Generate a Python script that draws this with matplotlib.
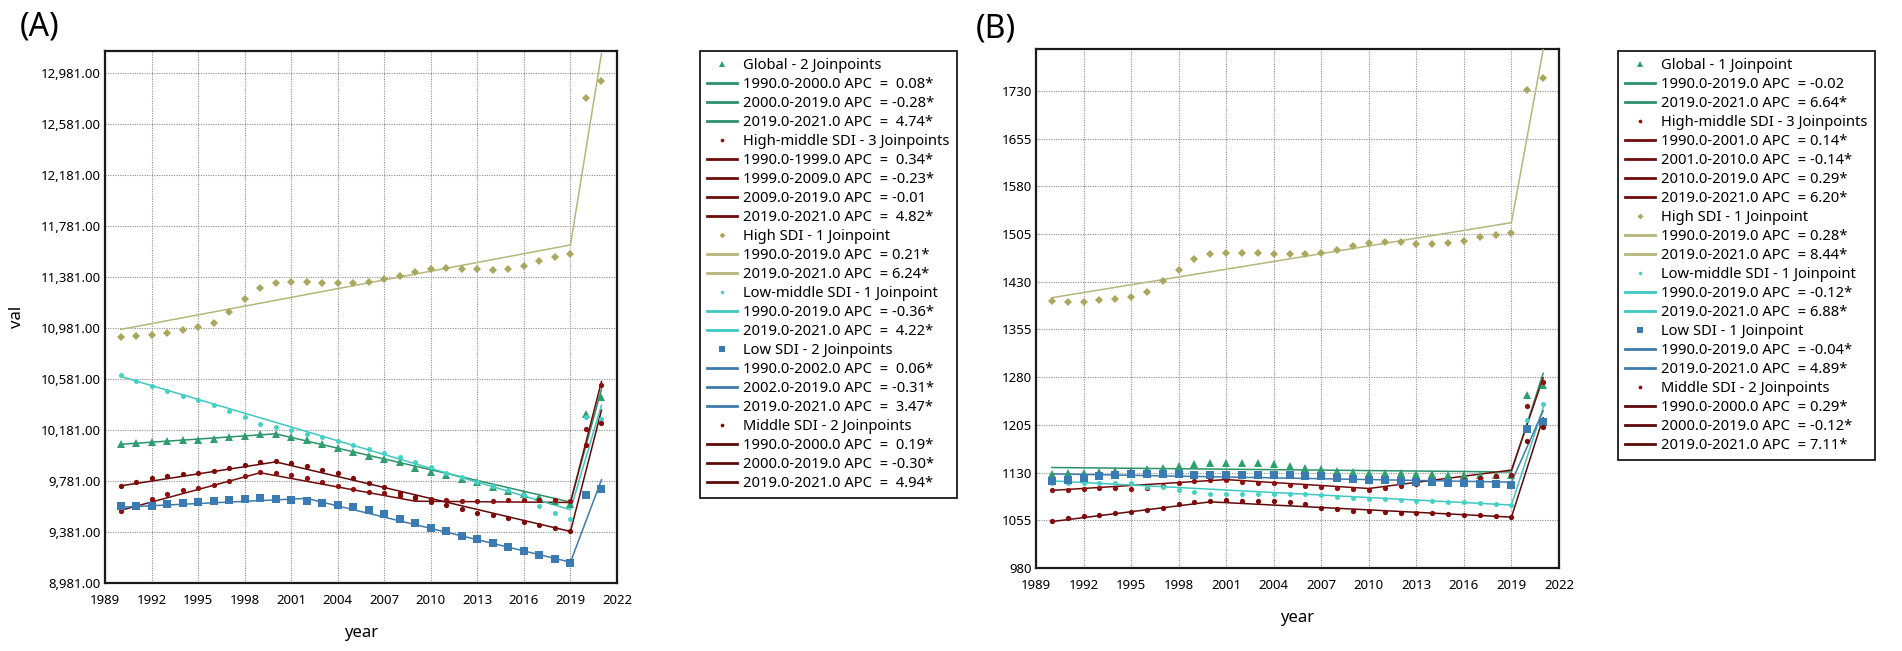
import matplotlib
matplotlib.use("Agg")
import matplotlib.pyplot as plt
from matplotlib.lines import Line2D
from matplotlib.ticker import FuncFormatter

plt.rcParams['font.family'] = ['Noto Sans', 'DejaVu Sans']

years = list(range(1990, 2022))

# ---- panel A: observed values (1990-2021)
a_global = [10070, 10077, 10085, 10096, 10101, 10103, 10109, 10122, 10132, 10145, 10145,
            10122, 10103, 10072, 10041, 10007, 9973, 9949, 9926, 9884, 9853, 9826, 9798,
            9769, 9735, 9704, 9675, 9652, 9625, 9600, 10309, 10439]
a_highmid = [9543, 9588, 9640, 9679, 9710, 9723, 9749, 9778, 9819, 9848, 9843, 9827, 9801,
             9770, 9744, 9718, 9697, 9683, 9665, 9650, 9636, 9631, 9625, 9624, 9626, 9628,
             9629, 9630, 9631, 9625, 10186, 10531]
a_high = [10911, 10916, 10926, 10942, 10963, 10984, 11022, 11107, 11204, 11290, 11332, 11340,
          11342, 11334, 11332, 11329, 11340, 11366, 11387, 11416, 11439, 11450, 11444, 11439,
          11436, 11444, 11465, 11502, 11533, 11560, 12780, 12913]
a_lowmid = [10609, 10564, 10525, 10486, 10450, 10416, 10379, 10330, 10278, 10226, 10200,
            10179, 10148, 10122, 10096, 10062, 10028, 10001, 9970, 9931, 9891, 9840, 9808,
            9774, 9740, 9709, 9670, 9586, 9531, 9480, 10283, 10265]
a_low = [9583, 9585, 9585, 9598, 9611, 9619, 9627, 9635, 9640, 9645, 9642, 9632, 9622, 9611,
         9593, 9575, 9551, 9523, 9484, 9452, 9413, 9385, 9353, 9322, 9296, 9265, 9234, 9197,
         9166, 9140, 9670, 9714]
a_middle = [9744, 9770, 9801, 9822, 9835, 9846, 9856, 9879, 9905, 9926, 9934, 9918, 9900,
            9869, 9840, 9804, 9767, 9735, 9683, 9657, 9617, 9592, 9560, 9531, 9513, 9487,
            9461, 9435, 9409, 9385, 10061, 10231]

# panel A: joinpoint years and fitted values
a_global_jp, a_global_fit = [1990, 2000, 2019, 2021], [10068, 10150, 9615, 10500]
a_highmid_jp, a_highmid_fit = [1990, 1999, 2009, 2019, 2021], [9550, 9845, 9622, 9612, 10560]
a_high_jp, a_high_fit = [1990, 2019, 2021], [10968, 11630, 13130]
a_lowmid_jp, a_lowmid_fit = [1990, 2019, 2021], [10600, 9555, 10375]
a_low_jp, a_low_fit = [1990, 2002, 2019, 2021], [9575, 9644, 9144, 9790]
a_middle_jp, a_middle_fit = [1990, 2000, 2019, 2021], [9742, 9930, 9385, 10335]

a_headers = ["Global - 2 Joinpoints", "High-middle SDI - 3 Joinpoints", "High SDI - 1 Joinpoint",
             "Low-middle SDI - 1 Joinpoint", "Low SDI - 2 Joinpoints", "Middle SDI - 2 Joinpoints"]
a_segments = [
    ["1990.0-2000.0 APC  =  0.08*", "2000.0-2019.0 APC  = -0.28*", "2019.0-2021.0 APC  =  4.74*"],
    ["1990.0-1999.0 APC  =  0.34*", "1999.0-2009.0 APC  = -0.23*", "2009.0-2019.0 APC  = -0.01",
     "2019.0-2021.0 APC  =  4.82*"],
    ["1990.0-2019.0 APC  = 0.21*", "2019.0-2021.0 APC  = 6.24*"],
    ["1990.0-2019.0 APC  = -0.36*", "2019.0-2021.0 APC  =  4.22*"],
    ["1990.0-2002.0 APC  =  0.06*", "2002.0-2019.0 APC  = -0.31*", "2019.0-2021.0 APC  =  3.47*"],
    ["1990.0-2000.0 APC  =  0.19*", "2000.0-2019.0 APC  = -0.30*", "2019.0-2021.0 APC  =  4.94*"],
]

# ---- panel B: observed values (1990-2021)
b_global = [1128, 1129, 1130, 1131, 1132, 1133, 1135, 1138, 1141, 1143, 1145, 1145, 1145, 1145,
            1144, 1141, 1138, 1135, 1133, 1131, 1130, 1129, 1129, 1128, 1128, 1127, 1127, 1127,
            1126, 1126, 1252, 1268]
b_highmid = [1102, 1103, 1104, 1105, 1105, 1104, 1105, 1109, 1113, 1117, 1118, 1118, 1116, 1114,
             1113, 1111, 1109, 1107, 1105, 1104, 1103, 1106, 1109, 1112, 1115, 1117, 1119, 1121,
             1124, 1127, 1235, 1273]
b_high = [1400, 1398, 1399, 1401, 1403, 1406, 1414, 1431, 1449, 1466, 1474, 1475, 1475, 1475,
          1474, 1473, 1473, 1476, 1480, 1486, 1491, 1492, 1492, 1490, 1489, 1491, 1494, 1500,
          1504, 1507, 1731, 1751]
b_lowmid = [1113, 1114, 1113, 1114, 1114, 1114, 1108, 1107, 1103, 1099, 1096, 1097, 1097, 1097,
            1097, 1097, 1096, 1094, 1092, 1090, 1089, 1088, 1087, 1086, 1085, 1084, 1083, 1082,
            1081, 1079, 1212, 1238]
b_low = [1117, 1119, 1121, 1124, 1127, 1128, 1128, 1128, 1128, 1127, 1127, 1126, 1126, 1126,
         1126, 1126, 1125, 1124, 1121, 1120, 1119, 1118, 1117, 1116, 1115, 1114, 1113, 1112,
         1112, 1111, 1198, 1210]
b_middle = [1054, 1058, 1061, 1064, 1066, 1068, 1071, 1075, 1080, 1084, 1086, 1087, 1086, 1086,
            1085, 1084, 1080, 1075, 1072, 1070, 1069, 1068, 1067, 1066, 1066, 1065, 1064, 1063,
            1062, 1060, 1180, 1202]

b_global_jp, b_global_fit = [1990, 2019, 2021], [1138, 1131, 1286]
b_highmid_jp, b_highmid_fit = [1990, 2001, 2010, 2019, 2021], [1102, 1119, 1105, 1134, 1279]
b_high_jp, b_high_fit = [1990, 2019, 2021], [1405, 1523, 1795]
b_lowmid_jp, b_lowmid_fit = [1990, 2019, 2021], [1117, 1079, 1232]
b_low_jp, b_low_fit = [1990, 2019, 2021], [1128, 1115, 1227]
b_middle_jp, b_middle_fit = [1990, 2000, 2019, 2021], [1053, 1084, 1060, 1216]

b_headers = ["Global - 1 Joinpoint", "High-middle SDI - 3 Joinpoints", "High SDI - 1 Joinpoint",
             "Low-middle SDI - 1 Joinpoint", "Low SDI - 1 Joinpoint", "Middle SDI - 2 Joinpoints"]
b_segments = [
    ["1990.0-2019.0 APC  = -0.02", "2019.0-2021.0 APC  = 6.64*"],
    ["1990.0-2001.0 APC  = 0.14*", "2001.0-2010.0 APC  = -0.14*", "2010.0-2019.0 APC  = 0.29*",
     "2019.0-2021.0 APC  = 6.20*"],
    ["1990.0-2019.0 APC  = 0.28*", "2019.0-2021.0 APC  = 8.44*"],
    ["1990.0-2019.0 APC  = -0.12*", "2019.0-2021.0 APC  = 6.88*"],
    ["1990.0-2019.0 APC  = -0.04*", "2019.0-2021.0 APC  = 4.89*"],
    ["1990.0-2000.0 APC  = 0.29*", "2000.0-2019.0 APC  = -0.12*", "2019.0-2021.0 APC  = 7.11*"],
]

a_yticks = [8981 + 400 * k for k in range(11)]
b_yticks = [980 + 75 * k for k in range(11)]
xticks = list(range(1989, 2023, 3))

# styles per group
markers = ['^', 'o', 'D', 'o', 's', 'o']
msizes = [5.8, 3.8, 4.2, 3.6, 5.6, 3.8]
mcolors = ['#2f9e6d', '#8e1010', '#a9a85c', '#45d2c6', '#3a7bb4', '#7f0a0a']
lcolors = ['#2b9169', '#6f0c0c', '#b6b67c', '#3fc7c1', '#3e7aab', '#5e0a0a']


def draw_panel(ax, obs, jps, fits, yticks, ylim, fmt):
    for i in range(6):
        ax.plot(jps[i], fits[i], color=lcolors[i], lw=1.1, zorder=3)
        ax.plot(years, obs[i], linestyle='none', marker=markers[i], ms=msizes[i],
                color=mcolors[i], markeredgewidth=0, zorder=4)
    ax.set_xlim(1989, 2022)
    ax.set_ylim(*ylim)
    ax.set_xticks(xticks)
    ax.set_yticks(yticks)
    ax.yaxis.set_major_formatter(FuncFormatter(fmt))
    ax.grid(True, color='#8c8c8c', linestyle=(0, (1, 1.2)), linewidth=0.8)
    ax.tick_params(axis='x', length=0, pad=8, labelsize=9.5)
    ax.tick_params(axis='y', length=0, pad=3, labelsize=9.5)
    for s in ax.spines.values():
        s.set_linewidth(1.6)
        s.set_color('#1a1a1a')
    ax.set_xlabel('year', fontsize=12, fontweight='bold', labelpad=13)


def add_legend(fig, headers, segments, x0, y0):
    handles, labels = [], []
    for i in range(6):
        handles.append(Line2D([], [], linestyle='none', marker=markers[i], ms=msizes[i] * 0.7,
                              color=mcolors[i], markeredgewidth=0))
        labels.append(headers[i])
        for seg in segments[i]:
            handles.append(Line2D([], [], color=lcolors[i], lw=2))
            labels.append(seg)
    leg = fig.legend(handles, labels, loc='upper left', bbox_to_anchor=(x0, y0),
                     bbox_transform=fig.transFigure, fontsize=10.6, frameon=True, fancybox=False,
                     edgecolor='#1a1a1a', framealpha=1, handlelength=2.0, handletextpad=0.45,
                     labelspacing=0.27, borderpad=0.5, borderaxespad=0, numpoints=1)
    leg.get_frame().set_linewidth(1.3)


W, H = 1902, 651
fig = plt.figure(figsize=(W / 100, H / 100), dpi=100)

axA = fig.add_axes([105 / W, 1 - 583 / H, 512 / W, 532 / H])
draw_panel(axA, [a_global, a_highmid, a_high, a_lowmid, a_low, a_middle],
           [a_global_jp, a_highmid_jp, a_high_jp, a_lowmid_jp, a_low_jp, a_middle_jp],
           [a_global_fit, a_highmid_fit, a_high_fit, a_lowmid_fit, a_low_fit, a_middle_fit],
           a_yticks, (8981, 13150), lambda v, p: f"{v:,.2f}")
axA.set_ylabel('val', fontsize=12, fontweight='bold', labelpad=11)

axB = fig.add_axes([1036 / W, 1 - 568 / H, 523 / W, 519 / H])
draw_panel(axB, [b_global, b_highmid, b_high, b_lowmid, b_low, b_middle],
           [b_global_jp, b_highmid_jp, b_high_jp, b_lowmid_jp, b_low_jp, b_middle_jp],
           [b_global_fit, b_highmid_fit, b_high_fit, b_lowmid_fit, b_low_fit, b_middle_fit],
           b_yticks, (980, 1796), lambda v, p: f"{v:.0f}")

add_legend(fig, a_headers, a_segments, 700 / W, 1 - 51 / H)
add_legend(fig, b_headers, b_segments, 1618 / W, 1 - 51 / H)

fig.text(20 / W, 1 - 27 / H, '(A)', fontsize=23, fontweight='bold', va='center', ha='left')
fig.text(976 / W, 1 - 29 / H, '(B)', fontsize=23, fontweight='bold', va='center', ha='left')

fig.savefig('out.png', dpi=100)
